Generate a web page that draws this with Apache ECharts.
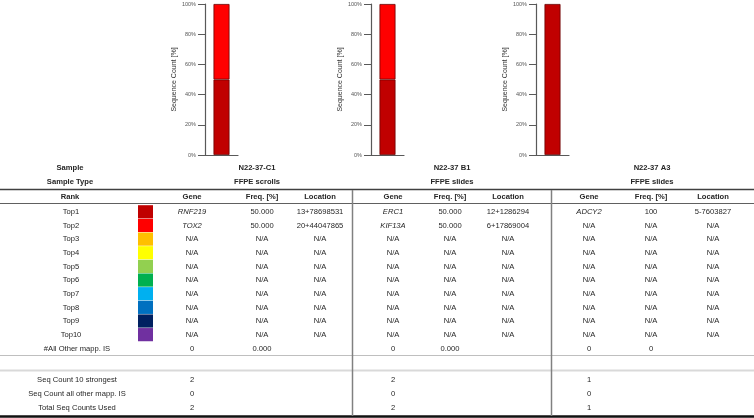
<!DOCTYPE html>
<html>
<head>
<meta charset="utf-8">
<script src="https://cdn.jsdelivr.net/npm/echarts@6.0.0/dist/echarts.min.js"></script>
<style>
  html, body { margin: 0; padding: 0; background: #fff; }
  #chart { width: 754px; height: 418px; }
</style>
</head>
<body>
<div id="chart"></div>
<script>
// samples
const samples = ['N22-37-C1', 'N22-37 B1', 'N22-37 A3']
const sampleTypes = ['FFPE scrolls', 'FFPE slides', 'FFPE slides']
const ranks = ['Top1', 'Top2', 'Top3', 'Top4', 'Top5', 'Top6', 'Top7', 'Top8', 'Top9', 'Top10']
const rankColors = ['#C00000', '#FF0000', '#FFC000', '#FFFF00', '#92D050', '#00B050', '#00B0F0', '#0070C0', '#002060', '#7030A0']

// per sample: strongest IS
const freqC1 = [50, 50]
const freqB1 = [50, 50]
const freqA3 = [100]
const freqTextC1 = ['50.000', '50.000']
const freqTextB1 = ['50.000', '50.000']
const freqTextA3 = ['100']
const genesC1 = ['RNF219', 'TOX2']
const genesB1 = ['ERC1', 'KIF13A']
const genesA3 = ['ADCY2']
const locC1 = ['13+78698531', '20+44047865']
const locB1 = ['12+1286294', '6+17869004']
const locA3 = ['5-7603827']

const otherCount = ['0', '0', '0']
const otherFreq = ['0.000', '0.000', '0']
const seqCount10 = [2, 2, 1]
const seqCountOther = [0, 0, 0]
const seqCountTotal = [2, 2, 1]

const freqs = [freqC1, freqB1, freqA3]
const freqTexts = [freqTextC1, freqTextB1, freqTextA3]
const genes = [genesC1, genesB1, genesA3]
const locs = [locC1, locB1, locA3]

const FONT = 'Liberation Sans, Arial, sans-serif'
const gridLeft = [205, 371, 536]
const groupCols = [[192, 262, 320], [393, 450, 508], [589, 651, 713]]
const sampleX = [257, 452, 652]
const rankX = 71
const rowY0 = 212
const rowStep = 13.65

let grids = [], xAxes = [], yAxes = [], series = []
for (let g = 0; g < 3; g++) {
    grids.push({ left: gridLeft[g], top: 4, width: 33, height: 151 })
    xAxes.push({
        type: 'category', gridIndex: g, data: [samples[g]],
        axisLine: { lineStyle: { color: '#595959', width: 1.2 } },
        axisTick: { show: false }, axisLabel: { show: false }
    })
    yAxes.push({
        type: 'value', gridIndex: g, min: 0, max: 100, interval: 20,
        name: 'Sequence Count [%]',
        nameLocation: 'middle', nameGap: 26, nameRotate: 90,
        nameTextStyle: { fontSize: 7, color: '#333', fontFamily: FONT },
        splitLine: { show: false },
        axisLine: { show: true, lineStyle: { color: '#595959', width: 1.2 } },
        axisTick: { show: true, length: 7, lineStyle: { color: '#595959' } },
        axisLabel: { fontSize: 5.5, color: '#555', margin: 9, fontFamily: FONT, formatter: '{value}%' }
    })
    for (let r = 0; r < ranks.length; r++) {
        const v = freqs[g][r]
        series.push({
            type: 'bar', name: ranks[r], xAxisIndex: g, yAxisIndex: g, stack: 's' + g,
            barWidth: 16,
            data: [v === undefined ? '-' : v],
            itemStyle: { color: rankColors[r], borderColor: '#6a0000', borderWidth: 0.8 },
            silent: true
        })
    }
}

// table
const gfx = []
function txt(x, y, s, opt) {
    opt = opt || {}
    gfx.push({
        type: 'text', x: x, y: y, silent: true,
        style: {
            text: String(s), fill: '#262626', textAlign: 'center', textVerticalAlign: 'middle',
            font: (opt.italic ? 'italic ' : '') + (opt.bold ? 'bold ' : '') + '7.6px ' + FONT
        }
    })
}
function hline(y, x1, x2, color, w) {
    gfx.push({ type: 'line', silent: true, shape: { x1: x1, y1: y, x2: x2, y2: y }, style: { stroke: color, lineWidth: w } })
}
function vline(x, y1, y2, color, w) {
    gfx.push({ type: 'line', silent: true, shape: { x1: x, y1: y1, x2: x, y2: y2 }, style: { stroke: color, lineWidth: w } })
}

txt(70, 168, 'Sample', { bold: true })
txt(70, 182, 'Sample Type', { bold: true })
txt(70, 197, 'Rank', { bold: true })
for (let g = 0; g < 3; g++) {
    txt(sampleX[g], 168, samples[g], { bold: true })
    txt(sampleX[g], 182, sampleTypes[g], { bold: true })
    txt(groupCols[g][0], 197, 'Gene', { bold: true })
    txt(groupCols[g][1], 197, 'Freq. [%]', { bold: true })
    txt(groupCols[g][2], 197, 'Location', { bold: true })
}
for (let r = 0; r < ranks.length; r++) {
    const y = rowY0 + r * rowStep
    txt(rankX, y, ranks[r])
    gfx.push({
        type: 'rect', silent: true,
        shape: { x: 138, y: y - 6.8, width: 15, height: 13.2 },
        style: { fill: rankColors[r] }
    })
    for (let g = 0; g < 3; g++) {
        const has = genes[g][r] !== undefined
        txt(groupCols[g][0], y, has ? genes[g][r] : 'N/A', { italic: has })
        txt(groupCols[g][1], y, has ? freqTexts[g][r] : 'N/A')
        txt(groupCols[g][2], y, has ? locs[g][r] : 'N/A')
    }
}
const yOther = 349
txt(77, yOther, '#All Other mapp. IS')
for (let g = 0; g < 3; g++) {
    txt(groupCols[g][0], yOther, otherCount[g])
    txt(groupCols[g][1], yOther, otherFreq[g])
}
const bottomLabels = ['Seq Count 10 strongest', 'Seq Count all other mapp. IS', 'Total Seq Counts Used']
const bottomVals = [seqCount10, seqCountOther, seqCountTotal]
const bottomY = [380, 394, 408]
for (let i = 0; i < 3; i++) {
    txt(77, bottomY[i], bottomLabels[i])
    for (let g = 0; g < 3; g++) txt(groupCols[g][0], bottomY[i], bottomVals[i][g])
}

hline(189.5, 0, 754, '#404040', 1.5)
hline(203.5, 0, 754, '#606060', 1)
hline(355.5, 0, 754, '#bfbfbf', 1)
hline(370.5, 0, 754, '#d9d9d9', 2)
hline(416.5, 0, 754, '#111', 2.5)
vline(352.5, 190, 416, '#808080', 1.5)
vline(551.5, 190, 416, '#808080', 1.5)

const chart = echarts.init(document.getElementById('chart'))
chart.setOption({
    animation: false,
    grid: grids,
    xAxis: xAxes,
    yAxis: yAxes,
    series: series,
    graphic: gfx
})
</script>
</body>
</html>
